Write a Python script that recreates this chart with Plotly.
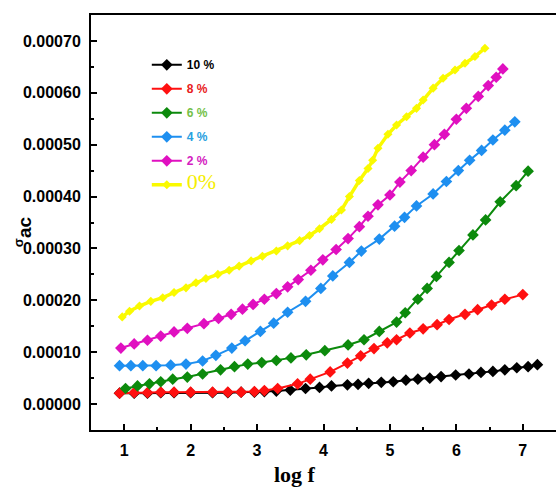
import plotly.graph_objects as go

# AC conductivity vs log frequency for different dopant contents
# (conductivity values below are in units of 1e-5)
SCALE = 1e-5

logf_10 = [0.93, 1.15, 1.35, 1.55, 1.75, 2.0, 2.33, 2.56, 2.76, 2.96, 3.11,
           3.29, 3.50, 3.73, 3.94, 4.12, 4.36, 4.52, 4.68, 4.87, 5.05, 5.24,
           5.42, 5.60, 5.77, 5.99, 6.19, 6.37, 6.55, 6.73, 6.91, 7.08, 7.22]
sigma_10 = [2.1, 2.1, 2.1, 2.2, 2.2, 2.2, 2.2, 2.2, 2.3, 2.3, 2.4,
            2.5, 2.7, 3.0, 3.2, 3.5, 3.7, 3.8, 4.0, 4.2, 4.3, 4.6,
            4.8, 5.0, 5.3, 5.6, 5.8, 6.1, 6.3, 6.6, 7.0, 7.2, 7.6]

logf_8 = [0.93, 1.15, 1.35, 1.55, 1.75, 2.0, 2.33, 2.56, 2.76, 2.96, 3.11,
          3.31, 3.61, 3.80, 4.10, 4.36, 4.56, 4.76, 4.96, 5.10, 5.30, 5.50,
          5.71, 5.89, 6.13, 6.32, 6.53, 6.73, 7.00]
sigma_8 = [2.1, 2.2, 2.2, 2.3, 2.3, 2.3, 2.3, 2.3, 2.3, 2.4, 2.6,
           3.0, 3.9, 4.8, 6.2, 7.9, 9.3, 10.7, 11.8, 12.4, 13.7, 14.5,
           15.3, 16.3, 17.3, 18.2, 19.1, 20.2, 21.1]

logf_6 = [1.02, 1.20, 1.38, 1.55, 1.73, 1.95, 2.18, 2.45, 2.66, 2.86, 3.07,
          3.29, 3.51, 3.74, 4.02, 4.37, 4.61, 4.84, 5.10, 5.23, 5.42, 5.56,
          5.70, 5.89, 6.04, 6.25, 6.44, 6.66, 6.90, 7.08]
sigma_6 = [3.0, 3.5, 3.9, 4.3, 4.8, 5.2, 5.8, 6.6, 7.2, 7.7, 8.0,
           8.4, 8.9, 9.5, 10.3, 11.4, 12.4, 14.0, 15.8, 17.6, 20.2, 22.3,
           24.6, 27.3, 29.6, 32.6, 35.5, 39.0, 42.1, 44.9]

logf_4 = [0.93, 1.10, 1.28, 1.48, 1.70, 1.93, 2.18, 2.38, 2.62, 2.82, 3.05,
          3.25, 3.46, 3.73, 3.96, 4.14, 4.39, 4.57, 4.84, 5.07, 5.22, 5.40,
          5.65, 5.85, 6.03, 6.20, 6.38, 6.55, 6.73, 6.88]
sigma_4 = [7.4, 7.4, 7.4, 7.4, 7.5, 7.7, 8.3, 9.4, 10.8, 12.2, 14.0,
           15.6, 17.7, 19.8, 22.3, 24.7, 27.3, 29.5, 31.8, 34.3, 36.0, 38.2,
           40.5, 42.9, 45.0, 47.0, 48.9, 50.9, 52.8, 54.4]

logf_2 = [0.95, 1.15, 1.35, 1.55, 1.75, 1.95, 2.20, 2.42, 2.61, 2.78, 2.94,
          3.11, 3.29, 3.46, 3.62, 3.81, 3.99, 4.19, 4.37, 4.54, 4.67, 4.82,
          5.00, 5.15, 5.32, 5.50, 5.67, 5.82, 6.00, 6.15, 6.33, 6.48, 6.60, 6.70]
sigma_2 = [10.8, 11.6, 12.3, 13.1, 13.9, 14.6, 15.5, 16.5, 17.3, 18.3, 19.2,
           20.2, 21.3, 22.6, 24.0, 25.8, 27.8, 29.8, 31.9, 34.2, 36.2, 38.4,
           40.3, 42.8, 45.0, 47.6, 50.0, 52.0, 54.9, 57.0, 59.3, 61.4, 63.0, 64.6]

logf_0 = [0.97, 1.08, 1.23, 1.40, 1.58, 1.75, 1.93, 2.08, 2.23, 2.41, 2.58,
          2.73, 2.91, 3.08, 3.29, 3.46, 3.64, 3.79, 3.94, 4.12, 4.27, 4.39,
          4.54, 4.67, 4.74, 4.82, 4.97, 5.10, 5.25, 5.40, 5.50, 5.65, 5.80,
          5.98, 6.13, 6.28, 6.43]
sigma_0 = [16.8, 17.9, 18.9, 19.8, 20.5, 21.5, 22.4, 23.4, 24.2, 25.0, 25.8,
           26.6, 27.6, 28.5, 29.5, 30.5, 31.5, 32.5, 33.8, 35.6, 37.4, 40.0,
           43.1, 45.4, 47.0, 49.3, 52.0, 53.8, 55.4, 57.0, 58.6, 60.9, 62.8,
           64.4, 65.7, 67.0, 68.6]

x_ticks = [1, 2, 3, 4, 5, 6, 7]

series = [
    # (x, y, line colour, legend label html, line width, marker size)
    (logf_10, sigma_10, "#000000",
     "<b><span style='color:#000000'>10 %</span></b>", 2, 9),
    (logf_8, sigma_8, "#ff1010",
     "<b><span style='color:#e82020'>8 %</span></b>", 2, 9),
    (logf_6, sigma_6, "#0c8a0c",
     "<b><span style='color:#74bf48'>6 %</span></b>", 2, 9),
    (logf_4, sigma_4, "#1e8ff0",
     "<b><span style='color:#28a0e0'>4 %</span></b>", 2, 9),
    (logf_2, sigma_2, "#e010c0",
     "<b><span style='color:#d420c0'>2 %</span></b>", 2, 9),
    (logf_0, sigma_0, "#fafa00",
     "<span style='color:#f5ee00;font-family:Liberation Serif;font-size:22px'>0%</span>",
     3.5, 7),
]

fig = go.Figure()
for i, (xs, ys, col, label, lw, ms) in enumerate(series):
    fig.add_trace(go.Scatter(
        x=xs, y=[v * SCALE for v in ys], mode="lines+markers",
        name=label, legendgroup=f"g{i}",
        line=dict(color=col, width=lw),
        marker=dict(symbol="diamond", size=ms, color=col),
    ))

tick_font = dict(family="Arial", size=16, color="#000000", weight="bold")

fig.update_xaxes(
    range=[0.5, 7.5], tickvals=x_ticks, ticktext=[str(t) for t in x_ticks],
    ticks="inside", ticklen=6, tickwidth=2, tickcolor="#000",
    minor=dict(dtick=0.5, ticks="inside", ticklen=3, tickwidth=2, tickcolor="#000"),
    showline=True, linecolor="#000", linewidth=2, mirror=True,
    showgrid=False, zeroline=False,
    tickfont=tick_font, ticklabelstandoff=5,
)
fig.update_yaxes(
    range=[-0.00005, 0.00075], tick0=0, dtick=0.0001, tickformat=".5f",
    ticks="inside", ticklen=6, tickwidth=2, tickcolor="#000",
    minor=dict(dtick=0.00005, ticks="inside", ticklen=3, tickwidth=2, tickcolor="#000"),
    showline=True, linecolor="#000", linewidth=2,
    showgrid=False, zeroline=False,
    tickfont=tick_font, ticklabelstandoff=5,
)

fig.add_annotation(
    text="<sup>σ</sup>ac", xref="paper", yref="paper", x=-0.146, y=0.477,
    xanchor="center", yanchor="middle",
    showarrow=False, textangle=-90,
    font=dict(family="Arial", size=19, color="#000", weight="bold"),
)
fig.add_annotation(
    text="<b>log f</b>", xref="paper", yref="paper", x=0.439, y=-0.01,
    xanchor="center", yanchor="top", yshift=-26,
    showarrow=False,
    font=dict(family="Liberation Serif", size=22, color="#000"),
)

fig.update_layout(
    width=556, height=489,
    margin=dict(l=91, r=0, t=15, b=59),
    plot_bgcolor="white", paper_bgcolor="white",
    legend=dict(x=0.12, y=0.915, xanchor="left", yanchor="top",
                bgcolor="rgba(0,0,0,0)", tracegroupgap=5,
                font=dict(family="Arial", size=12), itemwidth=30),
)

fig.write_html("out.html")
